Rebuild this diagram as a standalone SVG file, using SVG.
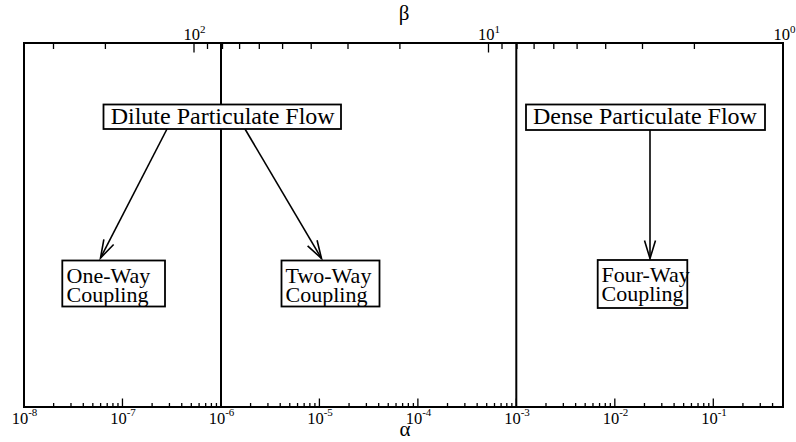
<svg xmlns="http://www.w3.org/2000/svg" width="796" height="442" viewBox="0 0 796 442">
<style>
text{font-family:"Liberation Serif","Times New Roman",serif;fill:#000}
.tl{font-size:16.5px;text-anchor:middle}
.sup{font-size:11px}
.ax{font-size:21px;text-anchor:middle}
.box{fill:#fff;stroke:#000;stroke-width:1.8}
.big{font-size:24px}
.sm{font-size:22px}
.tick{stroke:#000;stroke-width:1.3;fill:none}
.conn{stroke:#000;stroke-width:1.6;fill:none}
</style>
<defs>
<marker id="arr" markerUnits="userSpaceOnUse" markerWidth="22" markerHeight="14" viewBox="-1 -1 22 14" refX="18" refY="5.5" orient="auto" overflow="visible">
<path d="M0,0 L18,5.5 L0,11" fill="none" stroke="#000" stroke-width="1.6"/>
</marker>
</defs>
<rect width="796" height="442" fill="#fff"/>
<g id="axes">
<line x1="221" y1="43" x2="221" y2="407" stroke="#000" stroke-width="2"/>
<line x1="516.3" y1="43" x2="516.3" y2="407" stroke="#000" stroke-width="2"/>
<path class="tick" d="M24,407V398.5M122.47,407V398.5M220.94,407V398.5M319.41,407V398.5M417.88,407V398.5M516.35,407V398.5M614.82,407V398.5M713.29,407V398.5"/>
<path class="tick" d="M53.64,407V403M70.98,407V403M83.28,407V403M92.83,407V403M100.62,407V403M107.21,407V403M112.93,407V403M117.97,407V403
M152.11,407V403M169.45,407V403M181.75,407V403M191.3,407V403M199.09,407V403M205.68,407V403M211.4,407V403M216.44,407V403
M250.58,407V403M267.92,407V403M280.22,407V403M289.77,407V403M297.56,407V403M304.15,407V403M309.87,407V403M314.91,407V403
M349.05,407V403M366.39,407V403M378.69,407V403M388.24,407V403M396.03,407V403M402.62,407V403M408.34,407V403M413.38,407V403
M447.52,407V403M464.86,407V403M477.16,407V403M486.71,407V403M494.5,407V403M501.09,407V403M506.81,407V403M511.85,407V403
M545.99,407V403M563.33,407V403M575.63,407V403M585.18,407V403M592.97,407V403M599.56,407V403M605.28,407V403M610.32,407V403
M644.46,407V403M661.8,407V403M674.1,407V403M683.65,407V403M691.44,407V403M698.03,407V403M703.75,407V403M708.79,407V403
M742.93,407V403M760.27,407V403M772.57,407V403"/>
<path class="tick" d="M194,43V52.5M488.5,43V52.5"/>
<path class="tick" d="M53.5,43V49M105.4,43V49M207.5,43V49M222.5,43V49M239.6,43V49M259.3,43V49M282.6,43V49M311.2,43V49M348,43V49M399.9,43V49M502,43V49M517,43V49M534.1,43V49M553.8,43V49M577.1,43V49M605.7,43V49M642.5,43V49M694.4,43V49"/>
<rect x="24" y="43" width="759" height="364" fill="none" stroke="#000" stroke-width="2"/>
<text class="tl" x="24.5" y="423.5">10<tspan class="sup" dy="-8">-8</tspan></text>
<text class="tl" x="123" y="423.5">10<tspan class="sup" dy="-8">-7</tspan></text>
<text class="tl" x="221.5" y="423.5">10<tspan class="sup" dy="-8">-6</tspan></text>
<text class="tl" x="320" y="423.5">10<tspan class="sup" dy="-8">-5</tspan></text>
<text class="tl" x="418.5" y="423.5">10<tspan class="sup" dy="-8">-4</tspan></text>
<text class="tl" x="517" y="423.5">10<tspan class="sup" dy="-8">-3</tspan></text>
<text class="tl" x="615.5" y="423.5">10<tspan class="sup" dy="-8">-2</tspan></text>
<text class="tl" x="714" y="423.5">10<tspan class="sup" dy="-8">-1</tspan></text>
<text class="tl" x="194.5" y="40">10<tspan class="sup" dy="-7">2</tspan></text>
<text class="tl" x="489" y="40">10<tspan class="sup" dy="-7">1</tspan></text>
<text class="tl" x="784.5" y="40">10<tspan class="sup" dy="-7">0</tspan></text>
<text class="ax" x="404" y="20">β</text>
<text class="ax" x="405" y="436">α</text>
</g>
<g id="connectors">
<line class="conn" x1="167" y1="129" x2="100.5" y2="258" marker-end="url(#arr)"/>
<line class="conn" x1="245" y1="129" x2="321.5" y2="258.5" marker-end="url(#arr)"/>
<line class="conn" x1="650" y1="130" x2="650" y2="258.5" marker-end="url(#arr)"/>
</g>
<g id="dilute">
<rect class="box" x="103.5" y="104.5" width="237.5" height="24.5"/>
<text class="big" x="110.7" y="124">Dilute Particulate Flow</text>
</g>
<g id="dense">
<rect class="box" x="526" y="104.5" width="239" height="25.5"/>
<text class="big" x="533" y="124">Dense Particulate Flow</text>
</g>
<g id="oneway">
<rect class="box" x="62.3" y="260.5" width="102.7" height="46"/>
<text class="sm" x="66.5" y="282.5">One-Way<tspan x="66.5" dy="19.5">Coupling</tspan></text>
</g>
<g id="twoway">
<rect class="box" x="281.5" y="260.5" width="98" height="46"/>
<text class="sm" x="285.5" y="282.5">Two-Way<tspan x="285.5" dy="19.5">Coupling</tspan></text>
</g>
<g id="fourway">
<rect class="box" x="597.7" y="260" width="89.6" height="48"/>
<text class="sm" x="601.5" y="281.5">Four-Way<tspan x="601.5" dy="19">Coupling</tspan></text>
</g>
</svg>
